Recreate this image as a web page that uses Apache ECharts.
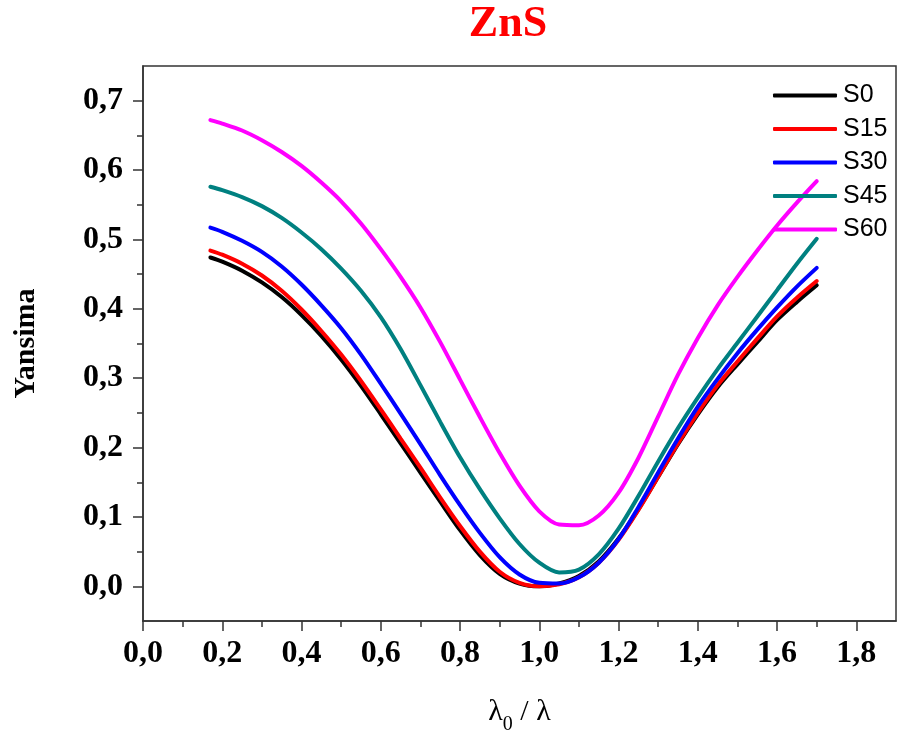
<!DOCTYPE html>
<html>
<head>
<meta charset="utf-8">
<style>
  html, body { margin: 0; padding: 0; background: #fff; }
  #chart { width: 897px; height: 745px; }
</style>
<script src="https://cdn.jsdelivr.net/npm/echarts@6/dist/echarts.min.js"></script>
</head>
<body>
<div id="chart"></div>
<script>
// λ0/λ sample positions
const xVals = [0.17, 0.20, 0.25, 0.30, 0.35, 0.40, 0.45, 0.50, 0.55, 0.60, 0.65, 0.70, 0.75, 0.80, 0.85, 0.90,
  0.95, 1.00, 1.05, 1.10, 1.15, 1.20, 1.25, 1.30, 1.35, 1.40, 1.45, 1.50, 1.55, 1.60, 1.65, 1.70];

const s0 = [0.474, 0.468, 0.455, 0.438, 0.417, 0.391, 0.361, 0.327, 0.289, 0.248, 0.206, 0.164, 0.122, 0.081, 0.045, 0.018,
  0.004, 0.000, 0.004, 0.015, 0.036, 0.069, 0.111, 0.158, 0.205, 0.248, 0.287, 0.320, 0.352, 0.384, 0.410, 0.434];
const s15 = [0.484, 0.478, 0.465, 0.448, 0.426, 0.399, 0.368, 0.334, 0.296, 0.255, 0.213, 0.171, 0.128, 0.087, 0.050, 0.021,
  0.005, 0.000, 0.003, 0.013, 0.034, 0.067, 0.110, 0.158, 0.206, 0.250, 0.290, 0.324, 0.357, 0.389, 0.416, 0.440];
const s30 = [0.517, 0.511, 0.498, 0.482, 0.461, 0.435, 0.405, 0.372, 0.334, 0.292, 0.249, 0.205, 0.160, 0.117, 0.077, 0.042,
  0.017, 0.005, 0.004, 0.013, 0.034, 0.068, 0.114, 0.164, 0.213, 0.259, 0.299, 0.336, 0.370, 0.402, 0.432, 0.459];
const s45 = [0.576, 0.571, 0.561, 0.548, 0.531, 0.510, 0.486, 0.458, 0.426, 0.388, 0.342, 0.290, 0.237, 0.186, 0.140, 0.098,
  0.061, 0.034, 0.020, 0.024, 0.046, 0.083, 0.130, 0.180, 0.228, 0.272, 0.313, 0.351, 0.389, 0.427, 0.465, 0.501];
const s60 = [0.672, 0.667, 0.657, 0.643, 0.626, 0.606, 0.582, 0.555, 0.523, 0.486, 0.446, 0.402, 0.352, 0.298, 0.244, 0.192,
  0.145, 0.108, 0.089, 0.088, 0.102, 0.135, 0.185, 0.245, 0.305, 0.358, 0.405, 0.446, 0.484, 0.520, 0.553, 0.584];

const seriesNames = ['S0', 'S15', 'S30', 'S45', 'S60'];
const seriesColors = ['#000000', '#ff0000', '#0000ff', '#008080', '#ff00ff'];
const seriesValues = [s0, s15, s30, s45, s60];

// tick positions
const xMajor = [0, 0.2, 0.4, 0.6, 0.8, 1.0, 1.2, 1.4, 1.6, 1.8];
const xMinor = [0.1, 0.3, 0.5, 0.7, 0.9, 1.1, 1.3, 1.5, 1.7];
const yMajor = [0, 0.1, 0.2, 0.3, 0.4, 0.5, 0.6, 0.7];
const yMinor = [0.05, 0.15, 0.25, 0.35, 0.45, 0.55, 0.65];

const serif = '"Liberation Serif", "Times New Roman", serif';
const axisColor = '#333';

const myChart = echarts.init(document.getElementById('chart'));

const comma = v => v.toFixed(1).replace('.', ',');

const option = {
  backgroundColor: '#fff',
  animation: false,
  title: {
    text: 'ZnS',
    left: 503,
    top: -2,
    textAlign: 'center',
    textStyle: { color: '#ff0000', fontFamily: serif, fontWeight: 'bold', fontSize: 44 }
  },
  legend: {
    orient: 'vertical',
    left: 773,
    top: 83,
    padding: 0,
    itemWidth: 64,
    itemHeight: 4,
    itemGap: 8.5,
    icon: 'roundRect',
    textStyle: { fontFamily: '"Liberation Sans", Arial, sans-serif', fontSize: 25, color: '#000', padding: [0, 0, 0, 1] },
    data: seriesNames
  },
  grid: {
    left: 143,
    top: 66,
    right: 1,
    bottom: 124,
    show: true,
    borderColor: axisColor,
    borderWidth: 1.5,
    backgroundColor: 'transparent'
  },
  xAxis: [
    {
      type: 'value',
      min: 0,
      max: 1.9,
      name: '{a|λ}{b|0}{a| / λ}',
      nameLocation: 'middle',
      nameGap: 76,
      nameTextStyle: {
        rich: {
          a: { fontFamily: serif, fontSize: 30, color: '#000', verticalAlign: 'top', lineHeight: 34 },
          b: { fontFamily: serif, fontSize: 20, color: '#000', verticalAlign: 'top', padding: [18, 0, 0, 0], lineHeight: 34 }
        }
      },
      axisLine: { show: true, onZero: false, lineStyle: { color: axisColor, width: 1.5 } },
      axisTick: { show: true, customValues: xMajor, length: 10, lineStyle: { color: axisColor, width: 1.5 } },
      axisLabel: {
        customValues: xMajor,
        formatter: comma,
        margin: 17,
        fontFamily: serif,
        fontWeight: 'bold',
        fontSize: 32,
        color: '#000'
      },
      splitLine: { show: false }
    },
    {
      type: 'value',
      min: 0,
      max: 1.9,
      position: 'bottom',
      axisLine: { show: false, onZero: false },
      axisTick: { show: true, customValues: xMinor, length: 6, lineStyle: { color: axisColor, width: 1.5 } },
      axisLabel: { show: false },
      splitLine: { show: false }
    }
  ],
  yAxis: [
    {
      type: 'value',
      min: -0.05,
      max: 0.75,
      name: 'Yansima',
      nameLocation: 'middle',
      nameGap: 102,
      nameTextStyle: { fontFamily: serif, fontWeight: 'bold', fontSize: 30, color: '#000' },
      axisLine: { show: true, onZero: false, lineStyle: { color: axisColor, width: 1.5 } },
      axisTick: { show: true, customValues: yMajor, length: 10, lineStyle: { color: axisColor, width: 1.5 } },
      axisLabel: {
        customValues: yMajor,
        formatter: comma,
        margin: 20,
        fontFamily: serif,
        fontWeight: 'bold',
        fontSize: 32,
        color: '#000'
      },
      splitLine: { show: false }
    },
    {
      type: 'value',
      min: -0.05,
      max: 0.75,
      position: 'left',
      axisLine: { show: false, onZero: false },
      axisTick: { show: true, customValues: yMinor, length: 6, lineStyle: { color: axisColor, width: 1.5 } },
      axisLabel: { show: false },
      splitLine: { show: false }
    }
  ],
  series: seriesNames.map((name, i) => ({
    name: name,
    type: 'line',
    xAxisIndex: 0,
    yAxisIndex: 0,
    smooth: 0.3,
    showSymbol: false,
    symbol: 'none',
    color: seriesColors[i],
    lineStyle: { width: 4, color: seriesColors[i], cap: 'round' },
    data: xVals.map((x, j) => [x, seriesValues[i][j]])
  }))
};

myChart.setOption(option);
</script>
</body>
</html>
